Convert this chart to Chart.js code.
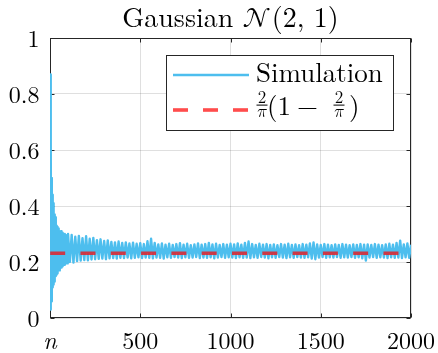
<!DOCTYPE html>
<html>
<head>
<meta charset="utf-8">
<script src="https://cdn.jsdelivr.net/npm/chart.js@4/dist/chart.umd.min.js"></script>
<style>
  html, body { margin: 0; padding: 0; background: #fff; }
  #wrap { width: 438px; height: 353px; }
</style>
</head>
<body>
<div id="wrap"><canvas id="chart" width="438" height="353"></canvas></div>
<script>
// simulation values, first part every 2 steps of n
const earlyStart = 1, earlyStep = 2;
const earlyVals = [
  0.87, 0.03, 0.62, 0.06, 0.50, 0.09, 0.44, 0.11, 0.41, 0.12,
  0.39, 0.13, 0.37, 0.14, 0.36, 0.15, 0.34, 0.155, 0.33, 0.16,
  0.325, 0.165, 0.32, 0.17, 0.315, 0.17, 0.31, 0.175, 0.305, 0.18,
  0.31, 0.18, 0.30, 0.185, 0.305, 0.185, 0.30, 0.19, 0.295, 0.19,
  0.30, 0.19, 0.29, 0.195, 0.295, 0.195, 0.29, 0.195, 0.285, 0.20
];
// rest of the run, every 10 steps of n (n = 100 .. 2000)
const lateStart = 100, lateStep = 10;
const lateVals = [
  0.30, 0.20, 0.297, 0.198, 0.29, 0.203, 0.293, 0.205, 0.285, 0.207,
  0.292, 0.206, 0.283, 0.209, 0.286, 0.21, 0.278, 0.211, 0.281, 0.212,
  0.275, 0.21, 0.277, 0.213, 0.272, 0.214, 0.27, 0.212, 0.273, 0.215,
  0.268, 0.214, 0.27, 0.216, 0.266, 0.213, 0.269, 0.215, 0.265, 0.217,
  0.267, 0.214, 0.264, 0.216, 0.274, 0.215, 0.283, 0.213, 0.268, 0.216,
  0.263, 0.215, 0.266, 0.212, 0.262, 0.217, 0.265, 0.215, 0.261, 0.218,
  0.264, 0.216, 0.267, 0.214, 0.262, 0.217, 0.265, 0.215, 0.26, 0.216,
  0.263, 0.218, 0.266, 0.214, 0.262, 0.216, 0.264, 0.215, 0.268, 0.217,
  0.263, 0.213, 0.265, 0.216, 0.261, 0.218, 0.264, 0.215, 0.262, 0.217,
  0.265, 0.216, 0.263, 0.214, 0.266, 0.217, 0.262, 0.215, 0.268, 0.216,
  0.273, 0.214, 0.264, 0.217, 0.261, 0.215, 0.265, 0.218, 0.262, 0.216,
  0.264, 0.213, 0.261, 0.217, 0.263, 0.215, 0.26, 0.218, 0.264, 0.216,
  0.262, 0.214, 0.265, 0.217, 0.261, 0.215, 0.263, 0.218, 0.26, 0.216,
  0.264, 0.215, 0.262, 0.217, 0.266, 0.212, 0.27, 0.21, 0.263, 0.216,
  0.261, 0.218, 0.264, 0.215, 0.262, 0.217, 0.26, 0.216, 0.263, 0.218,
  0.261, 0.215, 0.264, 0.217, 0.262, 0.216, 0.26, 0.218, 0.263, 0.215,
  0.261, 0.217, 0.264, 0.213, 0.262, 0.205, 0.263, 0.216, 0.261, 0.218,
  0.264, 0.215, 0.262, 0.217, 0.26, 0.216, 0.263, 0.214, 0.265, 0.217,
  0.262, 0.215, 0.268, 0.216, 0.276, 0.214, 0.263, 0.217, 0.266, 0.215,
  0.262
];
const refN = [1, 2000];
const refVals = [0.2313, 0.2313];

const xTicks = [0, 500, 1000, 1500, 2000];
const yTicks = [0, 0.2, 0.4, 0.6, 0.8, 1];
const seriesLabels = ['Simulation', '2/\u03c0(1 \u2212 2/\u03c0)'];

const SERIF = '"Latin Modern Roman", "Liberation Serif", serif';
const MATH = '"Latin Modern Math", "Latin Modern Roman", "DejaVu Serif", serif';
const AXIS_COL = '#262626';
const BLUE = 'rgb(77,190,238)';
const RED = 'rgba(255,0,0,0.7)';
const TICK_SIZE = 24;

const simPoints = [];
earlyVals.forEach((v, i) => simPoints.push({ x: earlyStart + i * earlyStep, y: v }));
lateVals.forEach((v, i) => simPoints.push({ x: lateStart + i * lateStep, y: v }));
const refPoints = refN.map((n, i) => ({ x: n, y: refVals[i] }));

// chart.js draws tick labels with a 'middle' baseline, find how far the digits sit off it
const mctx = document.createElement('canvas').getContext('2d');
mctx.font = TICK_SIZE + 'px ' + SERIF;
mctx.textBaseline = 'middle';
const dm = mctx.measureText('0123456789');
const digitShift = (dm.actualBoundingBoxDescent - dm.actualBoundingBoxAscent) / 2;
const xLabelPad = 340.5 - 318 - TICK_SIZE * 1.2 / 2 - digitShift;

// box round the axes with inward ticks, drawn under the data like matlab
const boxPlugin = {
  id: 'box',
  beforeDatasetsDraw(chart) {
    const { ctx, chartArea: a, scales } = chart;
    ctx.save();
    ctx.strokeStyle = AXIS_COL;
    ctx.lineWidth = 1;
    const L = Math.round(a.left) + 0.5, R = Math.round(a.right) - 0.5;
    const T = Math.round(a.top) + 0.5, B = Math.round(a.bottom) - 0.5;
    ctx.strokeRect(L, T, R - L, B - T);
    ctx.beginPath();
    xTicks.forEach(v => {
      const px = Math.round(scales.x.getPixelForValue(v)) + 0.5;
      ctx.moveTo(px, B); ctx.lineTo(px, B - 4);
      ctx.moveTo(px, T); ctx.lineTo(px, T + 4);
    });
    yTicks.forEach(v => {
      const py = Math.round(scales.y.getPixelForValue(v)) + 0.5;
      ctx.moveTo(L, py); ctx.lineTo(L + 4, py);
      ctx.moveTo(R, py); ctx.lineTo(R - 4, py);
    });
    ctx.stroke();
    ctx.restore();
  }
};

// title and legend (the legend has a fraction, so drawn by hand)
const textPlugin = {
  id: 'texts',
  afterDraw(chart) {
    const { ctx, chartArea: a } = chart;
    ctx.save();
    ctx.fillStyle = '#000';
    ctx.textBaseline = 'alphabetic';

    // title
    const t1 = 'Gaussian ', t2 = '\ud835\udca9', t3 = '(2, 1)';
    ctx.font = '28px ' + SERIF;
    const w1 = ctx.measureText(t1).width, w3 = ctx.measureText(t3).width;
    ctx.font = '28px ' + MATH;
    const w2 = ctx.measureText(t2).width + 1;
    let tx = (a.left + a.right) / 2 - (w1 + w2 + w3) / 2;
    const ty = 27;
    ctx.font = '28px ' + SERIF;
    ctx.fillText(t1, tx, ty); tx += w1;
    ctx.font = '28px ' + MATH;
    ctx.fillText(t2, tx, ty); tx += w2;
    ctx.font = '28px ' + SERIF;
    ctx.fillText(t3, tx, ty);

    // legend box
    const bx = 166, by = 55, bw = 227, bh = 75;
    ctx.fillStyle = '#fff';
    ctx.fillRect(bx, by, bw, bh);
    ctx.strokeStyle = AXIS_COL;
    ctx.lineWidth = 1;
    ctx.strokeRect(bx + 0.5, by + 0.5, bw, bh);

    const ds = chart.data.datasets;
    // row 1
    ctx.strokeStyle = ds[1].borderColor;
    ctx.lineWidth = 2.5;
    ctx.beginPath(); ctx.moveTo(173, 75); ctx.lineTo(249, 75); ctx.stroke();
    ctx.fillStyle = '#000';
    ctx.font = '27px ' + SERIF;
    ctx.fillText(ds[1].label, 256, 82);

    // row 2
    ctx.strokeStyle = ds[0].borderColor;
    ctx.lineWidth = ds[0].borderWidth;
    ctx.setLineDash([15, 15]);
    ctx.beginPath(); ctx.moveTo(173, 110); ctx.lineTo(249, 110); ctx.stroke();
    ctx.setLineDash([]);

    const frac = (cx) => {
      ctx.textAlign = 'center';
      ctx.font = '17px ' + SERIF;
      ctx.fillText('2', cx, 103);
      ctx.font = '17px ' + MATH;
      ctx.fillText('\ud835\udf0b', cx, 116.5);
      ctx.fillRect(cx - 5.5, 104.6, 11, 1);
      ctx.textAlign = 'left';
    };
    ctx.fillStyle = '#000';
    frac(262);
    ctx.font = '27px ' + SERIF;
    ctx.fillText('(1', 267, 115);
    ctx.fillText('\u2212', 297, 115);
    frac(339);
    ctx.font = '27px ' + SERIF;
    ctx.fillText(')', 349, 115);
    ctx.restore();
  }
};

new Chart(document.getElementById('chart'), {
  type: 'line',
  data: {
    datasets: [
      {
        label: seriesLabels[1],
        data: refPoints,
        borderColor: RED,
        borderWidth: 3.6,
        borderDash: [15, 15.3],
        pointRadius: 0,
        order: 0
      },
      {
        label: seriesLabels[0],
        data: simPoints,
        borderColor: BLUE,
        borderWidth: 2.4,
        borderJoinStyle: 'round',
        pointRadius: 0,
        tension: 0,
        order: 1
      }
    ]
  },
  options: {
    responsive: false,
    devicePixelRatio: 1,
    animation: false,
    layout: { padding: { top: 38, right: 27, left: 0, bottom: 0 } },
    plugins: {
      legend: { display: false },
      title: { display: false },
      tooltip: { enabled: false }
    },
    scales: {
      x: {
        type: 'linear',
        min: 0, max: 2000,
        afterBuildTicks: s => { s.ticks = xTicks.map(v => ({ value: v })); },
        // fixed height, and no extra room asked for the end labels
        afterFit: s => { s.height = 35; s.paddingLeft = 0; s.paddingRight = 0; },
        border: { display: false },
        grid: { color: 'rgba(38,38,38,0.15)', drawTicks: false },
        ticks: {
          padding: xLabelPad,
          color: '#000',
          maxRotation: 0,
          font: ctx => ({ family: SERIF, size: TICK_SIZE, style: ctx.tick && ctx.tick.value === 0 ? 'italic' : 'normal' }),
          callback: v => (v === 0 ? 'n' : String(v))
        }
      },
      y: {
        min: 0, max: 1,
        afterBuildTicks: s => { s.ticks = yTicks.map(v => ({ value: v })); },
        afterFit: s => { s.width = 50; s.paddingTop = 0; s.paddingBottom = 0; },
        border: { display: false },
        grid: { color: 'rgba(38,38,38,0.15)', drawTicks: false },
        ticks: {
          padding: 10.5,
          labelOffset: -digitShift,
          color: '#000',
          font: { family: SERIF, size: TICK_SIZE },
          callback: v => String(v)
        }
      }
    }
  },
  plugins: [boxPlugin, textPlugin]
});
</script>
</body>
</html>
